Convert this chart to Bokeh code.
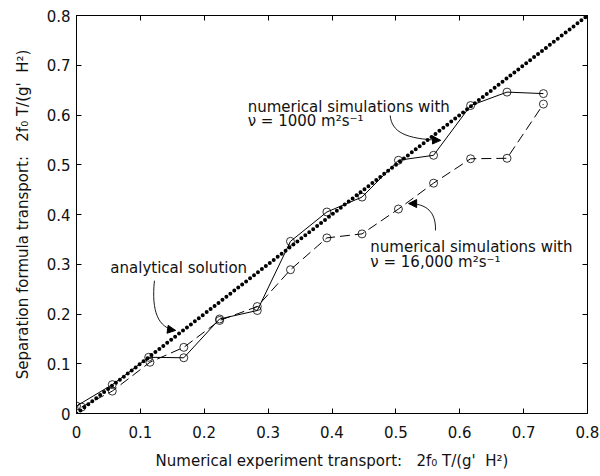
from bokeh.plotting import figure
from bokeh.models import LinearAxis, FixedTicker, Arrow, NormalHead, Range1d
from bokeh.core.properties import value
from bokeh.embed import file_html
from bokeh.resources import INLINE

# ---- data ----
ticks = [0, 0.1, 0.2, 0.3, 0.4, 0.5, 0.6, 0.7, 0.8]
tick_labels = ["0", "0.1", "0.2", "0.3", "0.4", "0.5", "0.6", "0.7", "0.8"]

analytic_x = [0.0, 0.8]
analytic_y = [0.0, 0.8]

nu1000_x = [0.0, 0.056, 0.113, 0.168, 0.224, 0.283, 0.335, 0.392, 0.447, 0.504, 0.559, 0.617, 0.674, 0.731]
nu1000_y = [0.015, 0.058, 0.113, 0.112, 0.190, 0.207, 0.346, 0.405, 0.435, 0.509, 0.519, 0.619, 0.646, 0.643]

nu16000_x = [0.008, 0.056, 0.115, 0.168, 0.224, 0.283, 0.335, 0.392, 0.447, 0.504, 0.559, 0.617, 0.674, 0.731]
nu16000_y = [0.013, 0.045, 0.103, 0.133, 0.187, 0.215, 0.289, 0.353, 0.361, 0.411, 0.463, 0.512, 0.513, 0.622]

FONT = "DejaVu Sans"
NB = "\u00a0"

p = figure(width=600, height=476, output_backend="svg", toolbar_location=None,
           x_range=Range1d(0, 0.8), y_range=Range1d(0, 0.8),
           min_border_left=76, min_border_right=13, min_border_top=15, min_border_bottom=63)
p.grid.visible = False
p.outline_line_color = "black"
p.outline_line_width = 1
p.background_fill_color = "white"
p.border_fill_color = "white"

overrides = {t: l for t, l in zip(ticks, tick_labels)}

def style_axis(ax, labels=True):
    ax.ticker = FixedTicker(ticks=ticks)
    ax.major_tick_in = 5
    ax.major_tick_out = 0
    ax.minor_tick_line_color = None
    ax.axis_line_color = "black"
    ax.major_tick_line_color = "black"
    if labels:
        ax.major_label_overrides = overrides
        ax.major_label_text_font = FONT
        ax.major_label_text_font_size = "15px"
        ax.major_label_text_color = "#111111"
        ax.axis_label_text_font = FONT
        ax.axis_label_text_font_size = "15px"
        ax.axis_label_text_font_style = "normal"
        ax.axis_label_text_color = "#111111"
    else:
        ax.major_label_text_font_size = "1px"
        ax.major_label_text_color = None
        ax.major_label_standoff = 0

style_axis(p.xaxis[0])
style_axis(p.yaxis[0])
p.xaxis[0].axis_label = "Numerical experiment transport:" + NB * 3 + "2f\u2080 T/(g'" + NB + " H\u00b2)"
p.yaxis[0].axis_label = "Separation formula transport:" + NB * 3 + "2f\u2080 T/(g'" + NB + " H\u00b2)"
p.xaxis[0].major_label_standoff = 12
p.yaxis[0].major_label_standoff = 6
p.xaxis[0].axis_label_standoff = 11
p.yaxis[0].axis_label_standoff = 12

top = LinearAxis()
right = LinearAxis()
style_axis(top, labels=False)
style_axis(right, labels=False)
p.add_layout(top, "above")
p.add_layout(right, "right")

# analytical solution (dotted)
p.line(analytic_x, analytic_y, line_color="black", line_width=4,
       line_dash="0 5", line_cap="round")

# nu = 1000 (solid)
p.line(nu1000_x, nu1000_y, line_color="black", line_width=1)
p.scatter(nu1000_x, nu1000_y, marker="circle", size=8, fill_color=None,
          line_color="black", line_width=0.8)

# nu = 16000 (dashed)
p.line(nu16000_x, nu16000_y, line_color="black", line_width=1, line_dash="10 5")
p.scatter(nu16000_x, nu16000_y, marker="circle", size=8, fill_color=None,
          line_color="black", line_width=0.8)

# annotations
def label(x, y, t):
    p.text(x=[x], y=[y], text=[t], text_font=value(FONT), text_font_size="15px",
           text_baseline="middle", text_align="left", text_color="#111111")

label(0.053, 0.293, "analytical solution")
label(0.268, 0.617, "numerical simulations with")
label(0.268, 0.587, "\u03bd = 1000 m\u00b2s\u207b\u00b9")
label(0.460, 0.334, "numerical simulations with")
label(0.460, 0.304, "\u03bd = 16,000 m\u00b2s\u207b\u00b9")

def curved_arrow(x0, y0, cx0, cy0, cx1, cy1, x1, y1):
    p.bezier(x0=[x0], y0=[y0], x1=[x1], y1=[y1], cx0=[cx0], cy0=[cy0],
             cx1=[cx1], cy1=[cy1], line_color="black", line_width=0.9)
    dx, dy = x1 - cx1, y1 - cy1
    p.add_layout(Arrow(end=NormalHead(size=8, fill_color="black", line_color="black"),
                       x_start=x1 - 0.15 * dx, y_start=y1 - 0.15 * dy, x_end=x1, y_end=y1,
                       line_color="black", line_width=0.9))

curved_arrow(0.122, 0.267, 0.117, 0.205, 0.128, 0.172, 0.155, 0.167)
curved_arrow(0.491, 0.599, 0.494, 0.565, 0.515, 0.552, 0.570, 0.549)
curved_arrow(0.562, 0.368, 0.563, 0.405, 0.548, 0.422, 0.520, 0.422)

open("out.html", "w").write(file_html(p, INLINE))
